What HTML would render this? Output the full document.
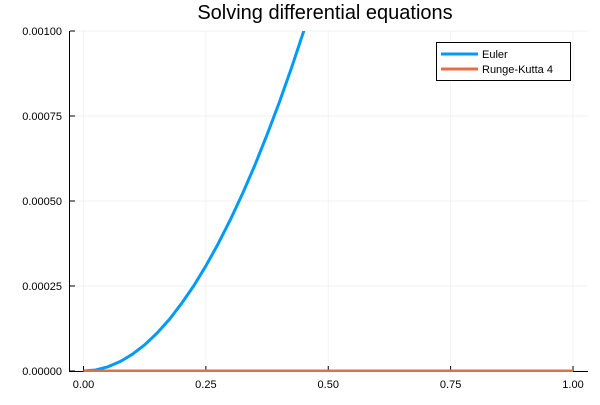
<!DOCTYPE html>
<html><head><meta charset="utf-8"><style>
body{margin:0;background:#fff}
svg text{font-family:"Liberation Sans","DejaVu Sans",sans-serif}
</style></head><body>
<svg id="chart" width="600" height="400" xmlns="http://www.w3.org/2000/svg">
<rect width="600" height="400" fill="#fff"/>
<text x="325" y="19" font-size="20" text-anchor="middle" fill="#000">Solving differential equations</text>
<defs><clipPath id="pc"><rect x="70" y="31" width="518" height="341"/></clipPath></defs>
<g id="grid"></g><g id="axes"></g>
<g id="series" clip-path="url(#pc)"></g>
<g id="legend">
<rect x="436.5" y="42.5" width="134" height="38" fill="#fff" stroke="#000" stroke-width="1"/>
<line x1="441" y1="54" x2="478" y2="54" stroke="#009af9" stroke-width="3"/>
<text x="482" y="58" font-size="11">Euler</text>
<line x1="441" y1="69" x2="478" y2="69" stroke="#e26f46" stroke-width="3"/>
<text x="482" y="73" font-size="11">Runge-Kutta 4</text>
</g>
</svg>
<script>
const xTicks=[0,0.25,0.5,0.75,1];
const xTickLabels=["0.00","0.25","0.50","0.75","1.00"];
const yTicks=[0,0.00025,0.0005,0.00075,0.001];
const yTickLabels=["0.00000","0.00025","0.00050","0.00075","0.00100"];
const eulerX=[0,0.025,0.05,0.075,0.1,0.125,0.15,0.175,0.2,0.225,0.25,0.275,0.3,0.325,0.35,0.375,0.4,0.425,0.45,0.475];
const eulerY=[0,0.0000031,0.0000124,0.0000278,0.0000494,0.000077,0.000111,0.000151,0.000198,0.00025,0.000309,0.000374,0.000445,0.000522,0.000605,0.000695,0.00079,0.000892,0.001,0.001115];
const rkX=[0,0.25,0.5,0.75,1];
const rkY=[0,0,0,0,0];
const NS="http://www.w3.org/2000/svg";
const sx=v=>83.5+v*489.5, sy=v=>371-v*340000;
function mk(p,t,a){const e=document.createElementNS(NS,t);for(const k in a)e.setAttribute(k,a[k]);document.getElementById(p).appendChild(e);return e;}
xTicks.forEach((v,i)=>{
 const g=mk('grid','line',{x1:sx(v),x2:sx(v),y1:31,y2:371,stroke:'#000','stroke-opacity':0.05});
 
 
 const t=mk('axes','line',{x1:sx(v),x2:sx(v),y1:371,y2:366,stroke:'#000'});
 
 
 const l=mk('axes','text',{x:sx(v),y:388,'font-size':11,'text-anchor':'middle'});l.textContent=xTickLabels[i];
 
 
});
yTicks.forEach((v,i)=>{
 const g=mk('grid','line',{x1:70,x2:588,y1:sy(v),y2:sy(v),stroke:'#000','stroke-opacity':0.05});
 
 
 const t=mk('axes','line',{x1:70,x2:75,y1:sy(v),y2:sy(v),stroke:'#000'});
 
 
 const l=mk('axes','text',{x:62,y:sy(v)+4,'font-size':11,'text-anchor':'end'});l.textContent=yTickLabels[i];
 
 
});
const xa=mk('axes','line',{x1:70,x2:588,y1:371.5,y2:371.5,stroke:'#000'});


const ya=mk('axes','line',{x1:69.5,x2:69.5,y1:31,y2:372,stroke:'#000'});


function path(xs,ys){return xs.map((x,i)=>(i?'L':'M')+sx(x)+','+sy(ys[i])).join(' ');}
const e=mk('series','path',{d:path(eulerX,eulerY),fill:'none',stroke:'#009af9','stroke-width':3,'stroke-linejoin':'round'});


const r=mk('series','path',{d:path(rkX,rkY),fill:'none',stroke:'#e26f46','stroke-width':3});


</script>
</body></html>
